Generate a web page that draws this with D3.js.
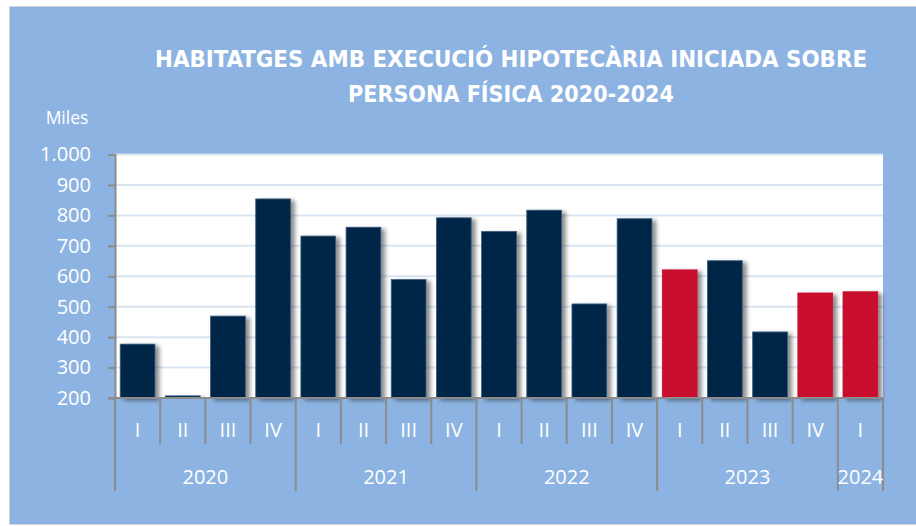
<!DOCTYPE html>
<html>
<head>
<meta charset="utf-8">
<script src="https://cdn.jsdelivr.net/npm/d3@7"></script>
<style>
  html, body { margin: 0; padding: 0; background: #ffffff; }
  svg { display: block; }
</style>
</head>
<body>
<svg id="chart" width="916" height="526"></svg>
<script>
// ---- Data ----
const years = ["2020", "2021", "2022", "2023", "2024"];
const quarters = ["I","II","III","IV","I","II","III","IV","I","II","III","IV","I","II","III","IV","I"];
const quarterYear = ["2020","2020","2020","2020","2021","2021","2021","2021","2022","2022","2022","2022","2023","2023","2023","2023","2024"];
const values = [377, 207, 469, 854, 732, 761, 589, 792, 747, 817, 509, 789, 621, 651, 417, 545, 549];
const highlighted = [false,false,false,false,false,false,false,false,false,false,false,false,true,false,false,true,true];
const yTicks = [200, 300, 400, 500, 600, 700, 800, 900, 1000];
const titleLines = ["HABITATGES AMB EXECUCIÓ HIPOTECÀRIA INICIADA SOBRE", "PERSONA FÍSICA 2020-2024"];
const unitLabel = "Miles";

// ---- Layout ----
const svg = d3.select("#chart");
const plot = { left: 115, right: 883, top: 154.5, bottom: 398 };
const fontFamily = "'Open Sans', 'Noto Sans', sans-serif";

// background panel
svg.append("rect")
  .attr("x", 9.5).attr("y", 6.5).attr("width", 910).attr("height", 518)
  .attr("fill", "#8db3e2").attr("stroke", "#d4d4d4").attr("stroke-width", 1);

// shadow filter
const defs = svg.append("defs");
const f = defs.append("filter").attr("id", "shadow")
  .attr("x", "-20%").attr("y", "-10%").attr("width", "160%").attr("height", "130%");
f.append("feDropShadow").attr("dx", 4).attr("dy", 2).attr("stdDeviation", 2.2)
  .attr("flood-color", "#000").attr("flood-opacity", 0.45);

// title
const title = svg.append("g");
const titleWidths = [712, 326];
titleLines.forEach((t, i) => {
  title.append("text")
    .attr("x", 511).attr("y", 67 + i * 34.5)
    .attr("text-anchor", "middle")
    .attr("font-family", "'Liberation Sans Narrow', 'DejaVu Sans Condensed', 'Open Sans', sans-serif")
    .attr("font-weight", "bold")
    .attr("font-size", 23.5)
    .attr("fill", "#ffffff")
    .attr("textLength", titleWidths[i])
    .attr("lengthAdjust", "spacingAndGlyphs")
    .text(t);
});

// scales
const x = d3.scaleBand()
  .domain(d3.range(values.length))
  .range([plot.left, plot.right])
  .paddingInner(0.23)
  .paddingOuter(0.115);
const y = d3.scaleLinear().domain([200, 1000]).range([plot.bottom, plot.top]);

// plot area
svg.append("rect")
  .attr("x", plot.left).attr("y", plot.top)
  .attr("width", plot.right - plot.left).attr("height", plot.bottom - plot.top)
  .attr("fill", "#ffffff");

// gridlines
svg.append("g").selectAll("line")
  .data(yTicks.filter(d => d > 200))
  .join("line")
  .attr("x1", plot.left).attr("x2", plot.right)
  .attr("y1", d => y(d)).attr("y2", d => y(d))
  .attr("stroke", "#dbe5f1").attr("stroke-width", 2);

// bars
svg.append("g").selectAll("rect")
  .data(values)
  .join("rect")
  .attr("x", (d, i) => x(i))
  .attr("y", d => y(d))
  .attr("width", x.bandwidth())
  .attr("height", d => y(200) - y(d))
  .attr("fill", (d, i) => highlighted[i] ? "#c8102e" : "#012847")
  .attr("stroke", (d, i) => highlighted[i] ? "#c8102e" : "#385d80")
  .attr("stroke-width", 0.8)
  .attr("filter", "url(#shadow)");

// y axis
const yAxis = d3.axisLeft(y)
  .tickValues(yTicks)
  .tickFormat(d => d3.format(",")(d).replace(/,/g, "."))
  .tickSize(7)
  .tickPadding(17);
const yg = svg.append("g")
  .attr("transform", `translate(${plot.left},0)`)
  .call(yAxis);
yg.select(".domain").attr("stroke", "#8c8c8c").attr("stroke-width", 2);
yg.selectAll(".tick line").attr("stroke", "#8c8c8c").attr("stroke-width", 2);
yg.selectAll(".tick text")
  .attr("fill", "#ffffff").attr("font-family", fontFamily).attr("font-size", 20);

// unit label
svg.append("text")
  .attr("x", 67).attr("y", 124)
  .attr("text-anchor", "middle")
  .attr("font-family", fontFamily).attr("font-size", 17.5)
  .attr("fill", "#ffffff")
  .text(unitLabel);

// x axis line
const xg = svg.append("g");
xg.append("line")
  .attr("x1", plot.left - 7).attr("x2", plot.right)
  .attr("y1", plot.bottom).attr("y2", plot.bottom)
  .attr("stroke", "#8c8c8c").attr("stroke-width", 2);

// category separators
const step = x.step();
const boundaries = d3.range(values.length + 1).map(i => ({
  i,
  pos: plot.left + i * step,
  isYear: i === 0 || i === values.length || quarterYear[i] !== quarterYear[i - 1]
}));
xg.selectAll("line.sep")
  .data(boundaries)
  .join("line")
  .attr("class", "sep")
  .attr("x1", d => d.pos).attr("x2", d => d.pos)
  .attr("y1", plot.bottom)
  .attr("y2", d => d.isYear ? 491 : 444)
  .attr("stroke", "#8c8c8c").attr("stroke-width", 2);

// quarter labels
xg.selectAll("text.q")
  .data(quarters)
  .join("text")
  .attr("class", "q")
  .attr("x", (d, i) => x(i) + x.bandwidth() / 2)
  .attr("y", 437)
  .attr("text-anchor", "middle")
  .attr("font-family", fontFamily).attr("font-size", 20)
  .attr("fill", "#ffffff")
  .text(d => d);

// year labels
const yearGroups = years.map(yr => {
  const idx = quarterYear.map((q, i) => q === yr ? i : -1).filter(i => i >= 0);
  const start = plot.left + d3.min(idx) * step;
  const end = plot.left + (d3.max(idx) + 1) * step;
  return { yr, center: (start + end) / 2 };
});
xg.selectAll("text.yr")
  .data(yearGroups)
  .join("text")
  .attr("class", "yr")
  .attr("x", d => d.center)
  .attr("y", 484)
  .attr("text-anchor", "middle")
  .attr("font-family", fontFamily).attr("font-size", 20)
  .attr("fill", "#ffffff")
  .text(d => d.yr);
</script>
</body>
</html>
